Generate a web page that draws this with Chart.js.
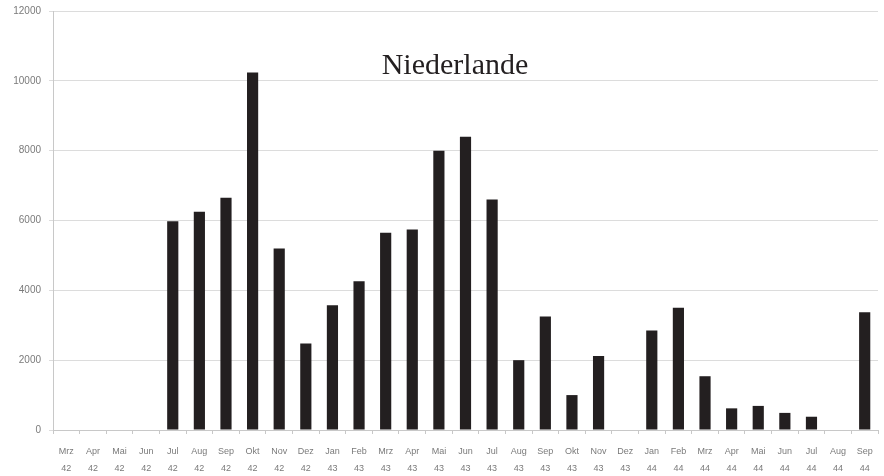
<!DOCTYPE html>
<html lang="de">
  <head>
    <meta charset="UTF-8" />
    <title>Niederlande</title>
    <script src="https://cdn.jsdelivr.net/npm/chart.js"></script>
    <style>
      body {
        margin: 0;
        background: #ffffff;
      }
      .wrap {
        position: relative;
        width: 884px;
        height: 476px;
      }
      .chart-title {
        position: absolute;
        left: 255px;
        width: 400px;
        top: 49px;
        text-align: center;
        font-family: "Liberation Serif", "DejaVu Serif", serif;
        font-size: 30px;
        line-height: 1;
        color: #231f20;
        pointer-events: none;
      }
    </style>
  </head>
  <body>
    <div class="wrap">
      <canvas id="chart" width="884" height="476"></canvas>
      <div class="chart-title">Niederlande</div>
    </div>

    <script>
      const months = [
        "Mrz", "Apr", "Mai", "Jun", "Jul", "Aug", "Sep", "Okt", "Nov", "Dez",
        "Jan", "Feb", "Mrz", "Apr", "Mai", "Jun", "Jul", "Aug", "Sep", "Okt",
        "Nov", "Dez", "Jan", "Feb", "Mrz", "Apr", "Mai", "Jun", "Jul", "Aug", "Sep",
      ];
      const years = [
        "42", "42", "42", "42", "42", "42", "42", "42", "42", "42",
        "43", "43", "43", "43", "43", "43", "43", "43", "43", "43",
        "43", "43", "44", "44", "44", "44", "44", "44", "44", "44", "44",
      ];
      const deportations = [
        0, 0, 0, 0, 5980, 6250, 6650, 10240, 5200, 2480,
        3570, 4260, 5650, 5740, 8000, 8400, 6600, 2000, 3250, 1000,
        2120, 0, 2850, 3500, 1540, 620, 690, 490, 380, 0, 3370,
      ];
      const yTicks = [0, 2000, 4000, 6000, 8000, 10000, 12000];

      const labels = months.map((m, i) => [m, years[i]]);

      new Chart(document.getElementById("chart"), {
        type: "bar",
        data: {
          labels: labels,
          datasets: [
            {
              data: deportations,
              backgroundColor: "#231f20",
              barPercentage: 0.42,
              categoryPercentage: 1,
            },
          ],
        },
        options: {
          responsive: false,
          animation: false,
          layout: { padding: { top: 11, right: 6, left: 0, bottom: 0 } },
          plugins: {
            legend: { display: false },
            tooltip: { enabled: false },
          },
          scales: {
            x: {
              afterFit: (axis) => {
                axis.height = 46;
              },
              grid: {
                drawOnChartArea: false,
                drawTicks: true,
                tickLength: 4,
                color: "#c8c8c8",
              },
              border: { color: "#c8c8c8" },
              ticks: {
                color: "#7a7a7a",
                font: { family: "Liberation Sans", size: 9, lineHeight: 1.9 },
                maxRotation: 0,
                autoSkip: false,
                padding: 9,
              },
            },
            y: {
              min: 0,
              max: yTicks[yTicks.length - 1],
              afterFit: (axis) => {
                axis.width = 53;
                axis.paddingTop = 0;
              },
              afterBuildTicks: (axis) => {
                axis.ticks = yTicks.map((v) => ({ value: v }));
              },
              grid: {
                color: "#dcdcdc",
                drawTicks: true,
                tickLength: 4,
              },
              border: { color: "#c8c8c8" },
              ticks: {
                color: "#7a7a7a",
                font: { family: "Liberation Sans", size: 10 },
                padding: 8,
                callback: (v) => String(v),
              },
            },
          },
        },
      });
    </script>
  </body>
</html>
